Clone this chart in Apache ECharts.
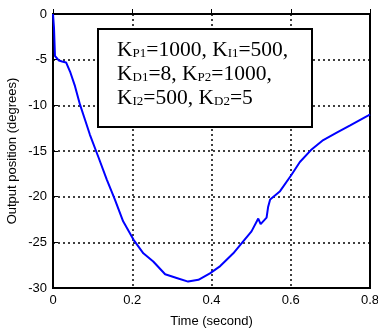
<!DOCTYPE html>
<html>
<head>
<meta charset="utf-8">
<script src="https://cdn.jsdelivr.net/npm/echarts@6/dist/echarts.min.js"></script>
<style>
  html, body { margin: 0; padding: 0; background: #fff; }
  #chart { width: 378px; height: 333px; }
</style>
</head>
<body>
<div id="chart"></div>
<script>
// 时间 (s) 与输出位置 (度)
var times = [0, 0.0025, 0.005, 0.015, 0.023, 0.0265, 0.033, 0.043, 0.0555, 0.068, 0.081, 0.093, 0.114,
  0.1355, 0.156, 0.177, 0.203, 0.228, 0.253, 0.283, 0.312, 0.341, 0.367, 0.396, 0.422, 0.455, 0.48,
  0.501, 0.518, 0.524, 0.539, 0.543, 0.548, 0.573, 0.602, 0.623, 0.651, 0.682, 0.716, 0.75, 0.796, 0.8];
var positions = [0, -1.5, -4.6, -5.1, -5.2, -5.0, -5.3, -6.3, -7.9, -9.9, -11.6, -13.2, -15.6,
  -18.1, -20.3, -22.7, -24.7, -26.2, -27.1, -28.5, -28.9, -29.3, -29.1, -28.4, -27.6, -26.2, -24.9,
  -23.8, -22.4, -23.0, -22.3, -21.1, -20.3, -19.4, -17.6, -16.2, -14.9, -13.8, -13.0, -12.2, -11.1, -11.0];
var xTicks = [0, 0.2, 0.4, 0.6, 0.8];
var yTicks = [-30, -25, -20, -15, -10, -5, 0];

var chart = echarts.init(document.getElementById('chart'));
var pts = [];
for (var i = 0; i < times.length; i++) {
  pts.push([times[i], positions[i]]);
}
var serif = '"Liberation Serif", "Times New Roman", serif';
var sub = { fontFamily: serif, fontSize: 13, lineHeight: 24, verticalAlign: 'bottom', padding: [0, 0, 2, 0] };
var big = { fontFamily: serif, fontSize: 21.5, lineHeight: 24 };

chart.setOption({
  animation: false,
  grid: {
    left: 53, top: 14, right: 8, bottom: 45,
    outerBoundsMode: 'none', containLabel: false,
    show: true, borderColor: '#000', borderWidth: 2, backgroundColor: 'transparent'
  },
  xAxis: {
    type: 'value', min: 0, max: 0.8, interval: 0.2,
    name: 'Time (second)', nameLocation: 'middle', nameGap: 27, nameMoveOverlap: false,
    nameTextStyle: { fontFamily: '"Liberation Sans", Arial', fontSize: 13, color: '#000' },
    axisLine: { show: false },
    axisTick: { show: true, inside: true, length: 5, lineStyle: { color: '#000', width: 1 } },
    axisLabel: {
      color: '#000', fontFamily: '"Liberation Sans", Arial', fontSize: 13, margin: 6,
      formatter: function (v) { return xTicks.indexOf(+v.toFixed(1)) >= 0 ? String(+v.toFixed(1)) : ''; }
    },
    splitLine: { show: true, lineStyle: { color: '#000', type: [2, 3], width: 1.5 } }
  },
  yAxis: {
    type: 'value', min: -30, max: 0, interval: 5,
    name: 'Output position (degrees)', nameLocation: 'middle', nameGap: 34, nameMoveOverlap: false,
    nameTextStyle: { fontFamily: '"Liberation Sans", Arial', fontSize: 13, color: '#000' },
    axisLine: { show: false },
    axisTick: { show: true, inside: true, length: 5, lineStyle: { color: '#000', width: 1 } },
    axisLabel: {
      color: '#000', fontFamily: '"Liberation Sans", Arial', fontSize: 13, margin: 6,
      formatter: function (v) { return yTicks.indexOf(v) >= 0 ? String(v) : ''; }
    },
    splitLine: { show: true, lineStyle: { color: '#000', type: [2, 3], width: 1.5 } }
  },
  series: [{
    type: 'line',
    data: pts,
    symbol: 'none',
    lineStyle: { color: '#0000ff', width: 2 }
  }],
  graphic: [{
    type: 'rect',
    shape: { x: 98, y: 29, width: 214, height: 98 },
    style: { fill: '#fff', stroke: '#000', lineWidth: 2 },
    z: 100
  }, {
    type: 'text',
    left: 117, top: 39,
    z: 101,
    style: {
      text: '{b|K}{s|P1}{b|=1000, K}{s|I1}{b|=500,}\n{b|K}{s|D1}{b|=8, K}{s|P2}{b|=1000,}\n{b|K}{s|I2}{b|=500, K}{s|D2}{b|=5}',
      fill: '#000',
      rich: { b: big, s: sub }
    }
  }]
});
</script>
</body>
</html>
